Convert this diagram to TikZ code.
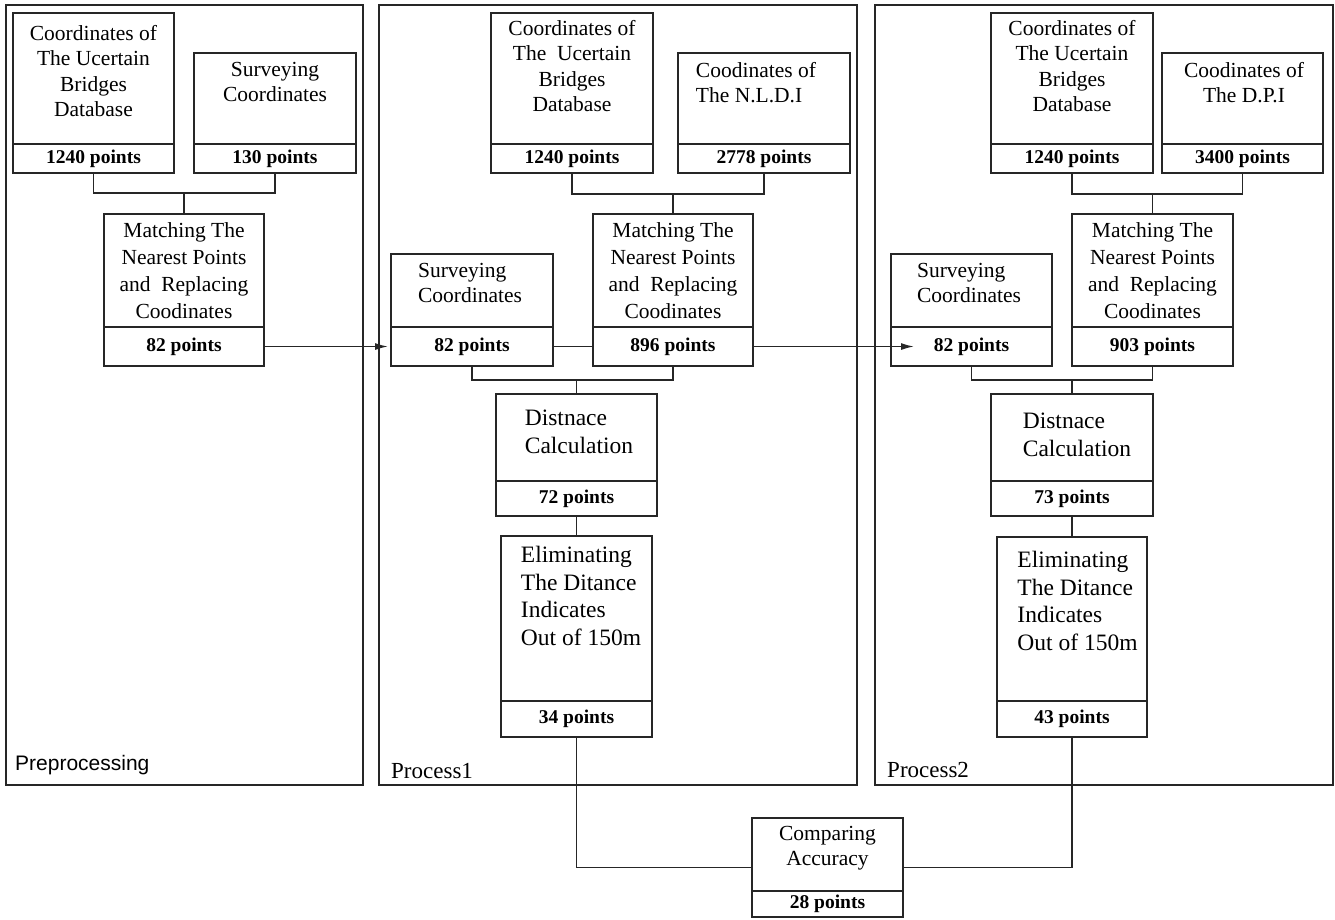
\documentclass[tikz,border=0pt]{standalone}
\usepackage{fontspec}
\setmainfont{Liberation Serif}
\newfontfamily\sansf{Liberation Sans}
\usetikzlibrary{arrows.meta}
\tikzset{
  ln/.style={line width=1.5pt, draw=black!85},
  boxs/.style={ln, rectangle, inner sep=0pt, outer sep=0pt},
  txt/.style={inner sep=0pt, anchor=north, align=center, font=\fontsize{21.5}{25.5}\selectfont},
  txtm/.style={txt, font=\fontsize{21.5}{27}\selectfont},
  txtl/.style={txt, align=left},
  big/.style={inner sep=0pt, anchor=north, align=left, font=\fontsize{23.5}{27.5}\selectfont},
  pts/.style={inner sep=0pt, font=\fontsize{19.5}{20}\selectfont\bfseries},
  lbl/.style={inner sep=0pt, anchor=base west},
  arr/.style={ln, -{Latex[length=13pt,width=7pt]}}
}
% name, x1, y1, x2, y2, divider y, points text
\newcommand\pbx[7]{%
  \node[boxs, minimum width={(#4-#2)*1pt}, minimum height={(#5-#3)*1pt}, anchor=north west] (#1) at (#2,#3) {};
  \draw[ln] (#2,#6) -- (#4,#6);
  \node[pts] (#1-n) at ({(#2+#4)/2},{(#6+#5)/2}) {#7};
}
\newcommand\panelbx[5]{%
  \node[boxs, minimum width={(#4-#2)*1pt}, minimum height={(#5-#3)*1pt}, anchor=north west] (#1) at (#2,#3) {};
}
\begin{document}
\begin{tikzpicture}[x=1pt, y=-1pt]
\useasboundingbox (0,0) rectangle (1335,919);

% panels
\panelbx{P0}{6}{5}{363}{785}
\panelbx{P1}{379}{5}{857}{785}
\panelbx{P2}{875}{5}{1333}{785}
\node[lbl, font=\sansf\fontsize{21}{21}\selectfont] (L0) at (15,770) {Preprocessing};
\node[lbl, font=\fontsize{23}{23}\selectfont] (L1) at (391,778) {Process1};
\node[lbl, font=\fontsize{23}{23}\selectfont] (L2) at (887,777) {Process2};

% ---------- Preprocessing ----------
\pbx{A0}{13}{13}{174}{173}{144}{1240 points}
\node[txt] (tA0) at (93.5,25) {Coordinates of\\The Ucertain\\Bridges\\Database};
\pbx{B0}{194}{53}{356}{173}{144}{130 points}
\node[txt] (tB0) at (275,62) {Surveying\\Coordinates};
\pbx{M0}{104}{214}{264}{366}{327}{82 points}
\node[txtm] (tM0) at (184,222) {Matching The\\Nearest Points\\and\ \ Replacing\\Coodinates};
\coordinate (j0) at (184,193);
\draw[ln] (A0.south) -- ++(0,20) -| (B0.south);
\draw[ln] (M0.north) -- (j0);

% ---------- Process1 ----------
\pbx{A1}{491}{13}{653}{173}{144}{1240 points}
\node[txt] (tA1) at (572,20) {Coordinates of\\The\ \ Ucertain\\Bridges\\Database};
\pbx{B1}{678}{53}{850}{173}{144}{2778 points}
\node[txtl] (tB1) at (756,62) {Coodinates of\\The N.L.D.I};
\pbx{M1}{593}{214}{753}{366}{327}{896 points}
\node[txtm] (tM1) at (673,222) {Matching The\\Nearest Points\\and\ \ Replacing\\Coodinates};
\pbx{S1}{391}{254}{553}{366}{327}{82 points}
\node[txtl] (tS1) at (470,263) {Surveying\\Coordinates};
\coordinate (j1) at (673,194);
\draw[ln] (A1.south) -- ++(0,21) -| (B1.south);
\draw[ln] (M1.north) -- (j1);
\draw[ln] (S1.east |- S1-n) -- (M1.west |- S1-n);
\pbx{D1}{496}{394}{657}{516}{481}{72 points}
\node[big] (tD1) at (579,410) {Distnace\\Calculation};
\pbx{E1}{501}{536}{652}{737}{701}{34 points}
\node[big] (tE1) at (581,546) {Eliminating\\The Ditance\\Indicates\\Out of 150m};
\coordinate (k1) at (576.5,380);
\draw[ln] (S1.south) -- ++(0,14) -| (M1.south);
\draw[ln] (D1.north) -- (k1);
\draw[ln] (D1.south) -- (E1.north);

% ---------- Process2 ----------
\pbx{A2}{991}{13}{1153}{173}{144}{1240 points}
\node[txt] (tA2) at (1072,20) {Coordinates of\\The Ucertain\\Bridges\\Database};
\pbx{B2}{1162}{53}{1323}{173}{144}{3400 points}
\node[txt] (tB2) at (1244,62) {Coodinates of\\The D.P.I};
\pbx{M2}{1072}{214}{1233}{366}{327}{903 points}
\node[txtm] (tM2) at (1152.5,222) {Matching The\\Nearest Points\\and\ \ Replacing\\Coodinates};
\pbx{S2}{891}{254}{1052}{366}{327}{82 points}
\node[txtl] (tS2) at (969,263) {Surveying\\Coordinates};
\coordinate (j2) at (1152.5,194);
\draw[ln] (A2.south) -- ++(0,21) -| (B2.south);
\draw[ln] (M2.north) -- (j2);
\pbx{D2}{991}{394}{1153}{516}{481}{73 points}
\node[big] (tD2) at (1077,413) {Distnace\\Calculation};
\pbx{E2}{997}{537}{1147}{737}{701}{43 points}
\node[big] (tE2) at (1077.5,551) {Eliminating\\The Ditance\\Indicates\\Out of 150m};
\coordinate (k2) at (1072,380);
\draw[ln] (S2.south) -- ++(0,14) -| (M2.south);
\draw[ln] (D2.north) -- (k2);
\draw[ln] (D2.south) -- (E2.north);

% ---------- arrows between panels ----------
\coordinate (t0) at (388,346.5);
\coordinate (t1) at (914,346.5);
\draw[arr] (M0.east |- M0-n) -- (t0);
\draw[arr] (M1.east |- M1-n) -- (t1);

% ---------- Comparing ----------
\pbx{C}{752}{818}{903}{917}{891}{28 points}
\node[txt] (tC) at (827.5,826) {Comparing\\Accuracy};
\draw[ln] (E1.south) |- (C.west);
\draw[ln] (E2.south) |- (C.east);
\end{tikzpicture}
\end{document}
